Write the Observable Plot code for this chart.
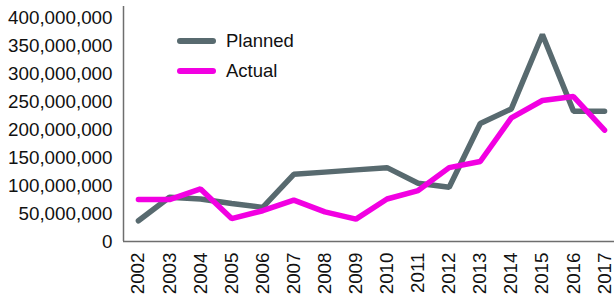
<!DOCTYPE html>
<html><head><meta charset="utf-8">
<script src="https://cdn.jsdelivr.net/npm/d3@7"></script>
<script src="https://cdn.jsdelivr.net/npm/@observablehq/plot@0.6"></script>
<style>
body{margin:0;background:#fff;}
#wrap{position:relative;width:614px;height:296px;overflow:hidden;font-family:"Liberation Sans",Arial,sans-serif;}
#legend{position:absolute;left:177px;top:26px;font-size:18.5px;color:#111;}
.item{display:flex;align-items:center;height:30px;}
.sw{width:39px;height:0;border-top:6px solid;border-radius:3px;margin-right:10px;}
</style>
</head><body>
<div id="wrap"><div id="chart"></div>
<div id="legend"></div></div>
<script>
const years = [2002,2003,2004,2005,2006,2007,2008,2009,2010,2011,2012,2013,2014,2015,2016,2017];
const planned = [37e6,79e6,76e6,68e6,61e6,120e6,124e6,128e6,132e6,104e6,97e6,211e6,237e6,370e6,233e6,233e6];
const actual = [75e6,75e6,94e6,41e6,55e6,74e6,53e6,40e6,76e6,91e6,132e6,143e6,221e6,252e6,259e6,199e6];
const yTicks = [0,50e6,100e6,150e6,200e6,250e6,300e6,350e6,400e6];
const seriesNames = ["Planned","Actual"];
const colors = ["#586a6f","#f200e2"];

const data = [];
years.forEach((y,i)=>{
  data.push({year:y, value:planned[i], series:"Planned"});
  data.push({year:y, value:actual[i], series:"Actual"});
});
const xDom = [2001.52, 2017.32];
const chart = Plot.plot({
  width:614, height:296,
  marginLeft:123, marginRight:0, marginTop:6, marginBottom:55,
  style:{fontFamily:"'Liberation Sans', Arial, sans-serif", fontSize:"18.8px", color:"#111", background:"#fff"},
  x:{type:"linear", domain:xDom, range:[123,614]},
  y:{domain:[0,420e6]},
  color:{domain:seriesNames, range:colors},
  marks:[
    Plot.axisY({ticks:yTicks, tickSize:0, tickPadding:11, tickFormat:d=>d3.format(",")(d), label:null, fill:"#111"}),
    Plot.axisX({ticks:years, tickSize:0, tickPadding:11, tickRotate:-90, tickFormat:d=>String(d), label:null, fill:"#111"}),
    Plot.line(data,{x:"year", y:"value", z:"series", stroke:"series", strokeWidth:5.5, strokeLinecap:"round", strokeLinejoin:"miter", curve:"linear"}),
    Plot.ruleY([0],{stroke:"#6e6e6e", strokeWidth:1.5}),
    Plot.ruleX([xDom[0]],{stroke:"#6e6e6e", strokeWidth:1.5})
  ]
});
document.getElementById("chart").appendChild(chart);
const leg = document.getElementById("legend");
seriesNames.forEach((n,i)=>{
  const d = document.createElement("div"); d.className="item";
  d.innerHTML = `<span class="sw" style="border-color:${colors[i]}"></span><span>${n}</span>`;
  leg.appendChild(d);
});
</script>
</body></html>
